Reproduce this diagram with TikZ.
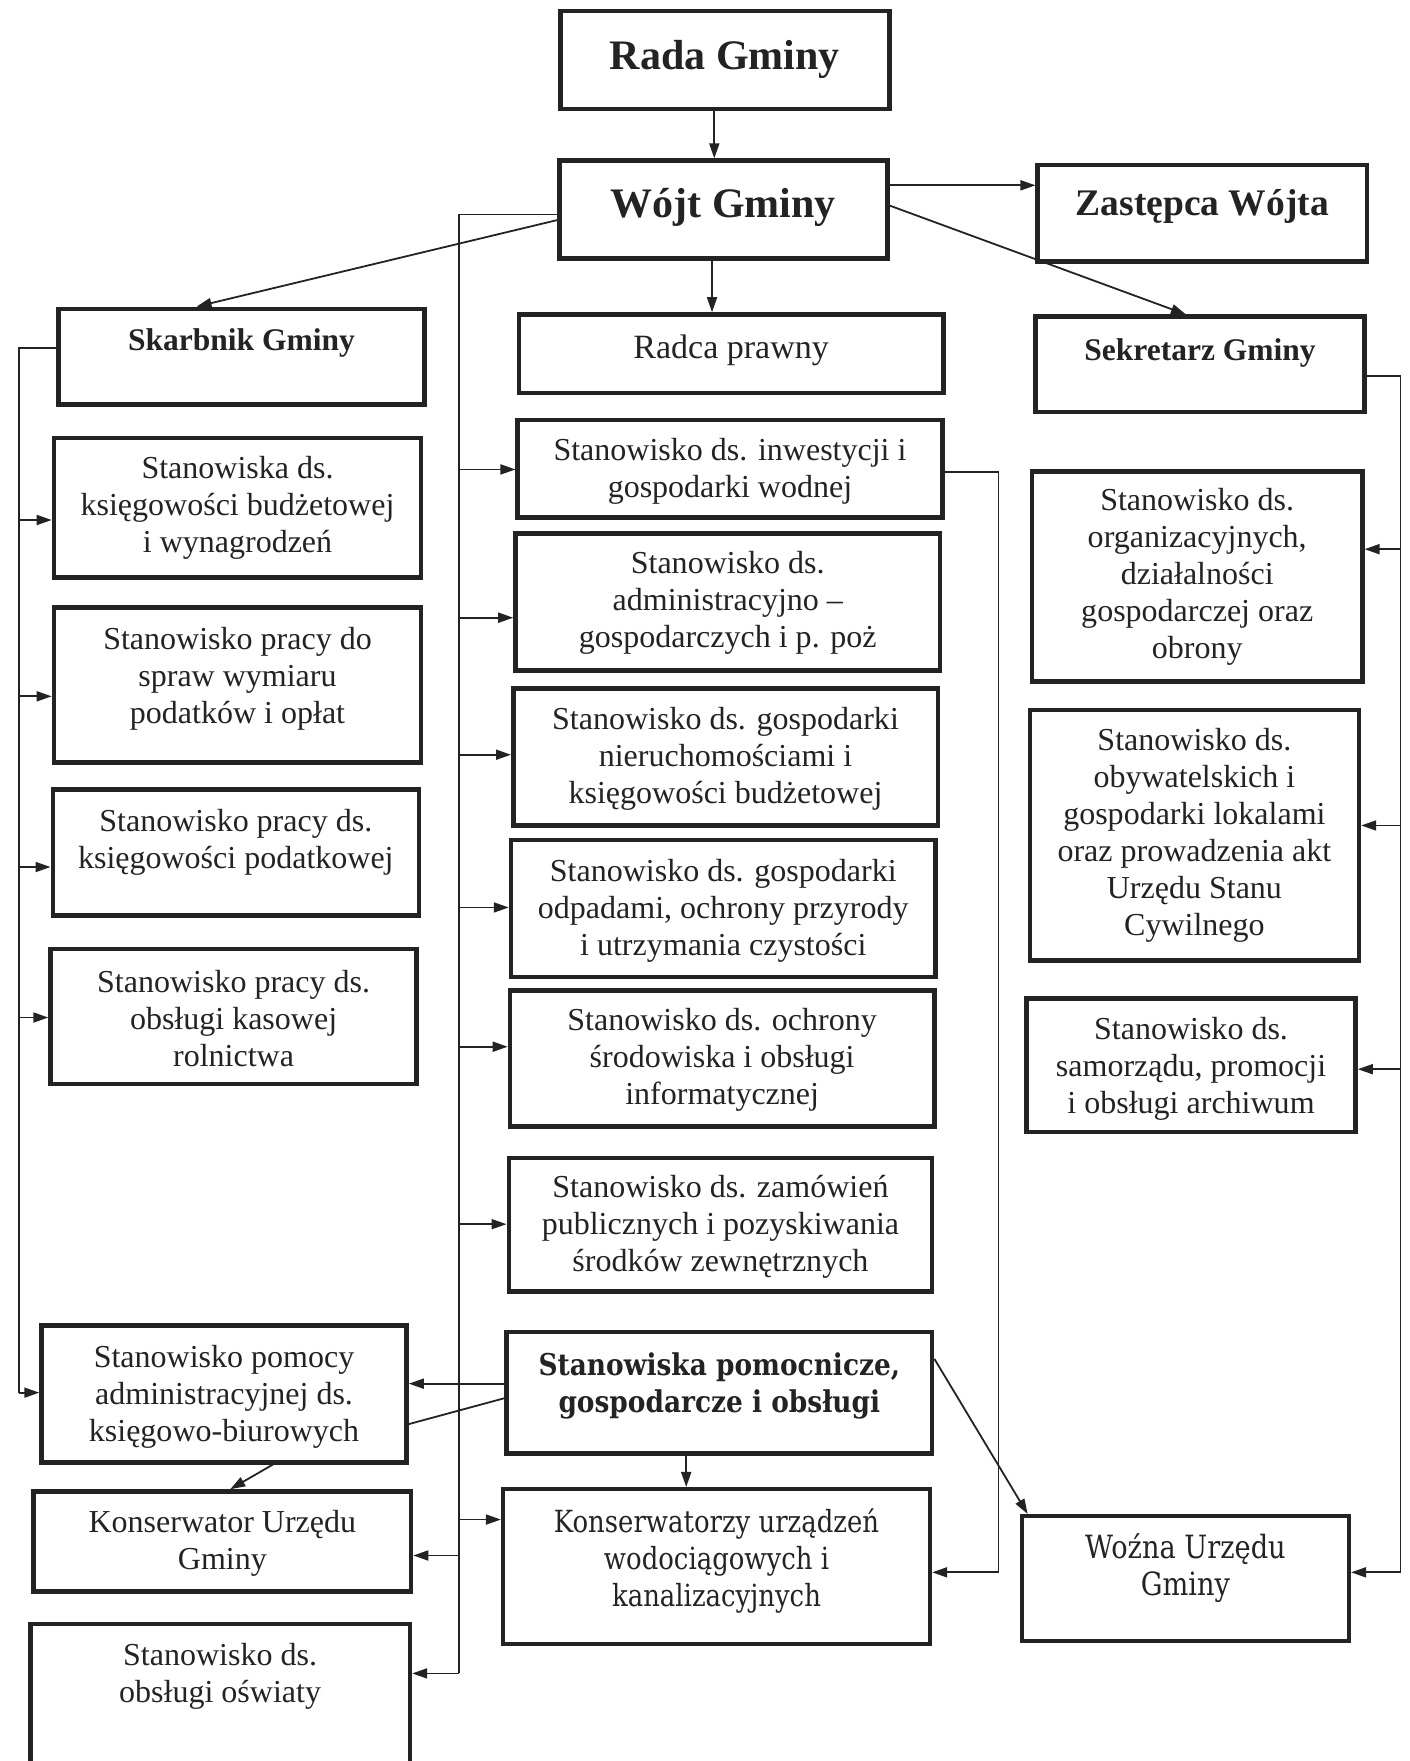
\documentclass[tikz,border=0pt]{standalone}
\usepackage{fontspec}
\setmainfont{Liberation Serif}
\newfontfamily\cambfont[FakeStretch=0.88]{DejaVu Serif}
\newfontfamily\condfont[FakeStretch=0.85]{DejaVu Serif}
\usetikzlibrary{arrows.meta,fit}
\definecolor{ink}{RGB}{35,35,35}
\tikzset{
  box/.style={draw=ink, line width=4.5pt, inner sep=0pt, fill=white},
  txt/.style={align=center, font=\fontsize{32}{37}\selectfont, text=ink, inner sep=0pt},
  ttlL/.style={font=\fontsize{42}{48}\selectfont\bfseries},
  ttlM/.style={font=\fontsize{37.5}{44}\selectfont\bfseries},
  ttlS/.style={font=\fontsize{31.5}{37}\selectfont\bfseries},
  rdc/.style={font=\fontsize{34}{37}\selectfont},
  cambB/.style={font=\cambfont\fontsize{30}{37}\selectfont\bfseries},
  condR/.style={font=\condfont\fontsize{30.5}{37}\selectfont},
  condW/.style={font=\condfont\fontsize{32}{37}\selectfont},
  con/.style={draw=ink, line width=1.8pt},
  arr/.style={con, -{Triangle[length=15pt,width=10pt]}},
}
\newcommand\obox[8]{%
  \node[box, fit={(#2,#3)(#4,#5)}] (#1) {};
  \node[txt,#7] (#1-t) at ({(#2+#4)/2},#6) {#8};}
\begin{document}
\begin{tikzpicture}[x=1.1227pt,y=-1.1227pt]
\useasboundingbox (0,0) rectangle (1255,1568);
% top
\obox{rada}{499}{10}{792}{97}{53}{ttlL}{Rada Gminy}
\obox{wojt}{498}{143}{790}{230}{185}{ttlL}{Wójt Gminy}
\obox{zast}{924}{147}{1217}{233}{184}{ttlM}{Zastępca Wójta}
\obox{skarb}{52}{275}{378}{360}{305}{ttlS}{Skarbnik Gminy}
\obox{radca}{462}{280}{840}{350}{312}{rdc}{Radca prawny}
\obox{sekr}{922}{282}{1215}{367}{314}{ttlS}{Sekretarz Gminy}
% left column
\obox{L1}{48}{390}{375}{514}{452}{}{Stanowiska ds.\\księgowości budżetowej\\i wynagrodzeń}
\obox{L2}{48}{541}{375}{679}{604}{}{Stanowisko pracy do\\spraw wymiaru\\podatków i opłat}
\obox{L3}{47}{703}{373}{815}{750}{}{Stanowisko pracy ds.\\księgowości podatkowej}
\obox{L4}{45}{845}{371}{965}{907}{}{Stanowisko pracy ds.\\obsługi kasowej\\rolnictwa}
\obox{L5}{37}{1180}{362}{1302}{1244}{}{Stanowisko pomocy\\administracyjnej ds.\\księgowo-biurowych}
\obox{L6}{30}{1328}{366}{1417}{1374}{}{Konserwator Urzędu\\Gminy}
\obox{L7}{27}{1446}{365}{1580}{1493}{}{Stanowisko ds.\\obsługi oświaty}
% center column
\obox{C1}{461}{374}{839}{461}{420}{}{Stanowisko ds. inwestycji i\\gospodarki wodnej}
\obox{C2}{459}{475}{837}{597}{537}{}{Stanowisko ds.\\administracyjno –\\gospodarczych i p. poż}
\obox{C3}{457}{613}{835}{735}{676}{}{Stanowisko ds. gospodarki\\nieruchomościami i\\księgowości budżetowej}
\obox{C4}{455}{748}{833}{870}{811}{}{Stanowisko ds. gospodarki\\odpadami, ochrony przyrody\\i utrzymania czystości}
\obox{C5}{454}{882}{832}{1003}{944}{}{Stanowisko ds. ochrony\\środowiska i obsługi\\informatycznej}
\obox{C6}{453}{1031}{830}{1150}{1092}{}{Stanowisko ds. zamówień\\publicznych i pozyskiwania\\środków zewnętrznych}
\obox{C7}{451}{1186}{830}{1294}{1234}{cambB}{Stanowiska pomocnicze,\\gospodarcze i obsługi}
\obox{C8}{448}{1326}{828}{1464}{1390}{condR}{Konserwatorzy urządzeń\\wodociągowych i\\kanalizacyjnych}
% right column
\obox{R1}{919}{420}{1213}{607}{514}{}{Stanowisko ds.\\organizacyjnych,\\działalności\\gospodarczej oraz\\obrony}
\obox{R2}{917}{632}{1210}{855}{744}{}{Stanowisko ds.\\obywatelskich i\\gospodarki lokalami\\oraz prowadzenia akt\\Urzędu Stanu\\Cywilnego}
\obox{R3}{914}{889}{1207}{1008}{952}{}{Stanowisko ds.\\samorządu, promocji\\i obsługi archiwum}
\obox{R4}{910}{1350}{1201}{1461}{1396}{condW}{Woźna Urzędu\\Gminy}
% connectors from the top
\draw[arr] (636,0 |- rada.south) -- (636,0 |- wojt.north);
\draw[arr] (634,0 |- wojt.south) -- (634,0 |- radca.north);
\draw[arr] (wojt.east |- 0,165) -- (zast.west |- 0,165);
\draw[arr] (wojt.east |- 0,183) -- (1056,0 |- sekr.north);
\draw[arr] (wojt.west |- 0,196) -- (175,0 |- skarb.north);
% central bus
\coordinate (bt) at (409,191);
\coordinate (bb) at (409,1490);
\draw[con] (wojt.west |- bt) -- (bt) -- (bb);
\foreach \n/\y in {C1/418,C2/550,C3/672,C4/808,C5/932,C6/1090,C8/1353}
  \draw[arr] (409,\y) -- (\n.west |- 0,\y);
\foreach \n/\y in {L6/1385,L7/1490}
  \draw[arr] (409,\y) -- (\n.east |- 0,\y);
% Skarbnik bus
\coordinate (st) at (17,310);
\draw[con] (skarb.west |- st) -- (st) -- (17,1240);
\foreach \n/\y in {L1/463,L2/620,L3/772,L4/906,L5/1240}
  \draw[arr] (17,\y) -- (\n.west |- 0,\y);
% Sekretarz bus
\coordinate (rt) at (1247,335);
\draw[con] (sekr.east |- rt) -- (rt) -- (1247,1400);
\foreach \n/\y in {R1/489,R2/735,R3/952,R4/1400}
  \draw[arr] (1247,\y) -- (\n.east |- 0,\y);
% inwestycji -> konserwatorzy
\draw[arr] (C1.east |- 0,420) -- (889,420) -- (889,1400) -- (C8.east |- 0,1400);
% stanowiska pomocnicze
\draw[arr] (C7.west |- 0,1232) -- (L5.east |- 0,1232);
\draw[con] (C7.west |- 0,1245) -- (L5.east |- 0,1268);
\draw[arr] (243,0 |- L5.south) -- (205,0 |- L6.north);
\draw[arr] (611,0 |- C7.south) -- (611,0 |- C8.north);
\draw[arr] (C7.east |- 0,1210) -- (915,0 |- R4.north);
\end{tikzpicture}
\end{document}
